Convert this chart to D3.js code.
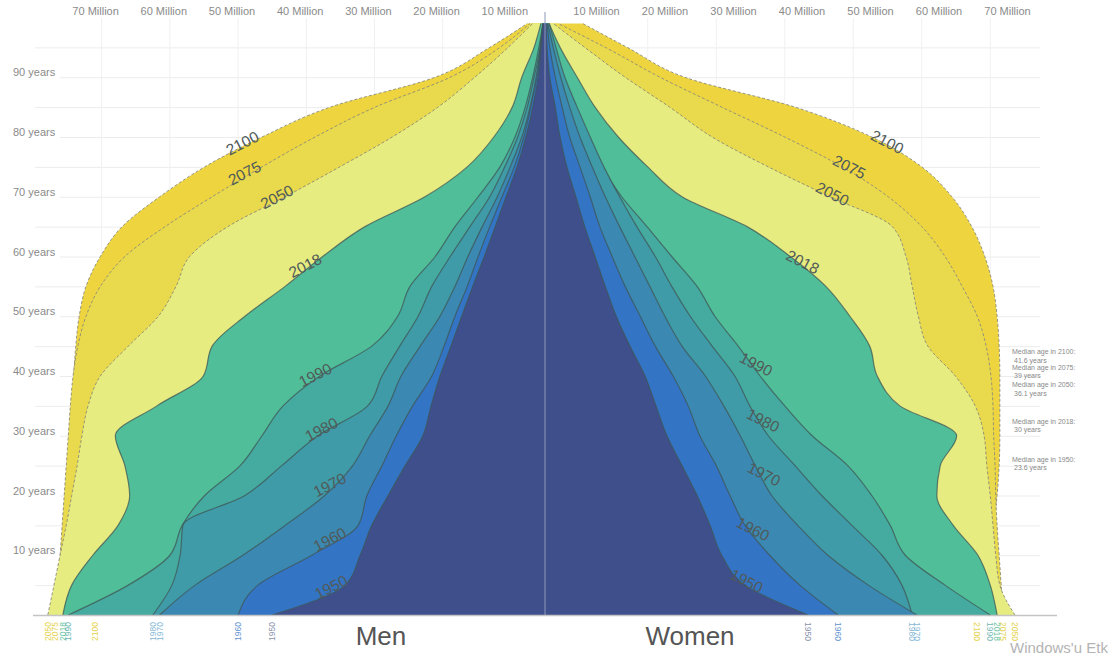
<!DOCTYPE html>
<html>
<head>
<meta charset="utf-8">
<script src="https://cdn.jsdelivr.net/npm/d3@7/dist/d3.min.js"></script>
<style>
    body { margin: 0; background: #fff; }
    svg { display: block; font-family: "Liberation Sans", Arial, sans-serif; }
</style>
</head>
<body>
<svg id="pyramid" width="1120" height="662"></svg>
<script>

// single-year ages sampled every 5 years (last open age 99)
var ages = [0, 5, 10, 15, 20, 25, 30, 35, 40, 45, 50, 55, 60, 65, 70, 75, 80, 85, 90, 95, 99];

// drawing order: back to front
var years = ["2100", "2075", "2050", "2018", "1990", "1980", "1970", "1960", "1950"];

// population per single year of age, millions
var men2100 = [66.0, 67.9, 68.8, 69.1, 69.2, 69.4, 69.4, 69.2, 69.1, 68.8, 68.3, 67.3, 65.2, 62.0, 56.5, 49.9, 41.5, 31.5, 16.1, 8.1, 2.6];
var men2075 = [71.8, 71.4, 71.1, 70.8, 70.5, 70.2, 69.9, 69.6, 69.2, 68.5, 67.3, 65.2, 61.6, 55.7, 48.8, 41.5, 33.7, 24.9, 13.9, 6.6, 2.2];
var men2050 = [72.9, 72.0, 71.1, 70.2, 69.4, 68.6, 67.9, 67.0, 65.2, 61.1, 56.7, 54.1, 52.1, 46.5, 38.1, 30.1, 22.4, 15.7, 10.3, 5.4, 1.8];
var men2018 = [70.7, 69.4, 66.3, 62.6, 60.9, 61.6, 63.0, 56.9, 50.1, 48.8, 44.0, 38.1, 32.6, 26.4, 17.6, 11.4, 7.5, 4.8, 3.4, 1.6, 0.6];
var men1990 = [69.9, 61.1, 55.0, 53.2, 49.9, 44.7, 41.5, 38.4, 33.0, 25.4, 21.6, 19.8, 16.1, 13.2, 9.8, 6.6, 4.4, 2.9, 1.8, 0.9, 0.3];
var men1980 = [57.5, 54.7, 53.5, 53.1, 44.0, 38.6, 33.3, 26.0, 23.9, 21.3, 18.6, 16.6, 13.9, 11.0, 8.1, 5.9, 4.0, 2.6, 1.6, 0.7, 0.3];
var men1970 = [56.5, 51.3, 44.3, 38.1, 32.3, 28.2, 25.7, 23.0, 21.1, 18.3, 15.4, 13.2, 11.3, 9.2, 7.0, 5.1, 3.4, 2.2, 1.3, 0.7, 0.3];
var men1960 = [45.0, 42.1, 34.2, 27.4, 26.1, 23.9, 21.8, 19.4, 16.6, 14.8, 13.2, 11.4, 9.8, 8.1, 6.3, 4.5, 3.1, 2.1, 1.2, 0.6, 0.3];
var men1950 = [40.0, 29.3, 27.1, 25.4, 23.0, 20.5, 17.9, 16.7, 15.4, 13.8, 12.2, 10.6, 8.9, 7.3, 5.7, 4.1, 2.8, 1.8, 1.0, 0.6, 0.3];

var women2100 = [63.1, 64.2, 65.0, 65.5, 66.0, 66.3, 66.4, 66.4, 66.4, 66.3, 66.0, 65.4, 64.2, 62.3, 59.4, 55.0, 47.7, 36.5, 20.4, 12.0, 5.5];
var women2075 = [66.9, 66.6, 66.3, 66.0, 65.8, 65.7, 65.5, 65.4, 65.1, 64.4, 63.1, 60.9, 58.4, 55.0, 50.1, 43.4, 35.0, 25.8, 16.8, 8.8, 1.9];
var women2050 = [68.6, 66.4, 65.8, 65.4, 65.0, 64.5, 64.1, 62.8, 59.9, 55.9, 54.5, 53.6, 52.7, 50.7, 41.6, 32.6, 24.4, 18.2, 11.7, 5.8, 1.2];
var women2018 = [66.0, 65.0, 63.2, 59.6, 57.2, 57.7, 60.1, 51.8, 48.5, 47.4, 44.5, 41.0, 35.8, 29.5, 20.0, 15.0, 10.7, 7.3, 4.7, 2.2, 0.6];
var women1990 = [65.0, 58.4, 52.6, 50.4, 47.7, 44.2, 39.0, 35.0, 31.4, 28.2, 24.8, 22.2, 18.5, 14.9, 11.2, 8.3, 6.1, 3.9, 2.3, 1.2, 0.4];
var women1980 = [53.6, 52.1, 49.2, 44.8, 40.4, 36.5, 32.6, 29.9, 27.7, 24.4, 21.2, 18.5, 16.1, 13.4, 10.9, 8.6, 6.6, 4.7, 2.9, 1.6, 0.6];
var women1970 = [54.3, 47.2, 41.3, 36.9, 33.1, 30.7, 28.5, 26.1, 23.4, 20.0, 17.5, 15.3, 13.1, 10.9, 8.8, 6.9, 5.1, 3.6, 2.3, 1.2, 0.4];
var women1960 = [42.8, 37.2, 32.8, 29.2, 27.0, 25.0, 22.6, 20.9, 18.7, 16.1, 13.9, 11.7, 9.8, 8.0, 6.6, 5.1, 3.6, 2.5, 1.5, 0.7, 0.3];
var women1950 = [38.4, 29.2, 25.8, 24.1, 22.2, 20.0, 17.8, 16.2, 14.6, 12.4, 10.4, 8.8, 7.3, 5.8, 4.5, 3.2, 2.2, 1.5, 0.7, 0.3, 0.15];

// ages where the year names sit on each outline
var labelAgeMen = [78.5, 73.5, 69.5, 58, 39.7, 30.6, 21.3, 12.2, 4.2];
var labelAgeWomen = [78.7, 74.5, 70, 58.6, 41.5, 32.1, 23.1, 13.9, 5.2];

var millionTicks = [10, 20, 30, 40, 50, 60, 70];
var gridMillions = [15, 25, 35, 45, 55, 65];
var ageTicks = [10, 20, 30, 40, 50, 60, 70, 80, 90];

var medianYears = ["2100", "2075", "2050", "2018", "1950"];
var medianAges = [41.6, 39, 36.1, 30, 23.6];

var menData = [men2100, men2075, men2050, men2018, men1990, men1980, men1970, men1960, men1950];
var womenData = [women2100, women2075, women2050, women2018, women1990, women1980, women1970, women1960, women1950];

var fills = {
    "2100": "#eed53f", "2075": "#e8d94d", "2050": "#e6ec7f", "2018": "#50be99",
    "1990": "#45aa9f", "1980": "#3f9ba8", "1970": "#3b88b2", "1960": "#3474c4", "1950": "#3f4f8c"
};
var labelColors = {
    "2100": "#e6d24a", "2075": "#e6d24a", "2050": "#e6d24a", "2018": "#6cc6a4",
    "1990": "#72b8b2", "1980": "#86b9d6", "1970": "#86b9d6", "1960": "#5f93d2", "1950": "#8a93ad"
};
var dashed = { "2100": true, "2075": true, "2050": true };

var svg = d3.select("#pyramid"),
    cx = 545,
    x0 = 35,
    x1 = 1040;

var xL = d3.scaleLinear().domain([0, 70]).range([cx, cx - 70 * 6.82]),
    xR = d3.scaleLinear().domain([0, 70]).range([cx, cx + 70 * 6.85]),
    y = d3.scaleLinear().domain([0, 100]).range([615, 17.5]);

var table = years.map(function(yr, i) {
    return {
        year: yr,
        men: ages.map(function(a, j) { return { age: a, v: menData[i][j] }; }),
        women: ages.map(function(a, j) { return { age: a, v: womenData[i][j] }; }),
        labelMen: labelAgeMen[i],
        labelWomen: labelAgeWomen[i]
    };
});

// grid
var grid = svg.append("g").attr("class", "grid");
grid.selectAll("line.h")
    .data(d3.range(5, 100, 5))
    .enter().append("line")
    .attr("class", "h")
    .attr("x1", function(d) { return d % 10 === 0 ? 60 : x0; })
    .attr("x2", x1)
    .attr("y1", function(d) { return y(d) + 0.5; })
    .attr("y2", function(d) { return y(d) + 0.5; })
    .attr("stroke", "#ececec");

grid.selectAll("line.vl")
    .data(gridMillions)
    .enter().append("line")
    .attr("x1", function(d) { return xL(d); })
    .attr("x2", function(d) { return xL(d); })
    .attr("y1", 18).attr("y2", 615)
    .attr("stroke", "#f1f1f1");

grid.selectAll("line.vr")
    .data(gridMillions)
    .enter().append("line")
    .attr("x1", function(d) { return xR(d); })
    .attr("x2", function(d) { return xR(d); })
    .attr("y1", 18).attr("y2", 615)
    .attr("stroke", "#f1f1f1");

svg.append("g").selectAll("text")
    .data(ageTicks)
    .enter().append("text")
    .attr("x", 13)
    .attr("y", function(d) { return y(d) - 1; })
    .attr("font-size", 11)
    .attr("fill", "#8a8a8a")
    .text(function(d) { return d + " years"; });

var topAxis = svg.append("g").attr("font-size", 11).attr("fill", "#8a8a8a").attr("text-anchor", "middle");
topAxis.selectAll("text.l")
    .data(millionTicks)
    .enter().append("text")
    .attr("x", function(d) { return xL(d) + 28; })
    .attr("y", 15)
    .text(function(d) { return d + " Million"; });
topAxis.selectAll("text.r")
    .data(millionTicks)
    .enter().append("text")
    .attr("x", function(d) { return xR(d) - 17; })
    .attr("y", 15)
    .text(function(d) { return d + " Million"; });

// shapes
function areaFor(sx) {
    return d3.area()
        .y(function(d) { return y(d.age); })
        .x0(cx)
        .x1(function(d) { return sx(d.v); })
        .curve(d3.curveMonotoneY);
}
function lineFor(sx) {
    return d3.line()
        .y(function(d) { return y(d.age); })
        .x(function(d) { return sx(d.v); })
        .curve(d3.curveMonotoneY);
}

var layers = svg.append("g").attr("class", "layers");
[["men", xL], ["women", xR]].forEach(function(side) {
    var key = side[0], sx = side[1];
    var g = layers.append("g").attr("class", key);
    var yr = g.selectAll("g.year")
        .data(table)
        .enter().append("g");
    yr.append("path")
        .attr("d", function(d) { return areaFor(sx)(d[key]); })
        .attr("fill", function(d) { return fills[d.year]; });
    yr.append("path")
        .attr("d", function(d) { return lineFor(sx)(d[key]); })
        .attr("fill", "none")
        .attr("stroke", function(d) { return dashed[d.year] ? "#8c8c7a" : "#3f5556"; })
        .attr("stroke-opacity", function(d) { return dashed[d.year] ? 0.9 : 0.75; })
        .attr("stroke-width", function(d) { return dashed[d.year] ? 1 : 1.2; })
        .attr("stroke-dasharray", function(d) { return dashed[d.year] ? "3,2" : null; });
});

// centre line
svg.append("line")
    .attr("x1", cx).attr("x2", cx)
    .attr("y1", 12).attr("y2", 615)
    .attr("stroke", "#8f98b8")
    .attr("stroke-width", 1);

// baseline
svg.append("line")
    .attr("x1", 33).attr("x2", 1057)
    .attr("y1", 615.5).attr("y2", 615.5)
    .attr("stroke", "#c4c4c4")
    .attr("stroke-width", 1.5);

// year names along outlines
function xAtAge(series, sx, a) {
    var i = d3.bisectRight(ages, a) - 1;
    i = Math.max(0, Math.min(i, ages.length - 2));
    var t = (a - ages[i]) / (ages[i + 1] - ages[i]);
    return sx(series[i].v + t * (series[i + 1].v - series[i].v));
}

var yearLabels = svg.append("g")
    .attr("font-size", 15.5)
    .attr("fill", "#505a5a")
    .attr("text-anchor", "middle");
yearLabels.selectAll("text.m")
    .data(table)
    .enter().append("text")
    .attr("transform", function(d) {
        return "translate(" + xAtAge(d.men, xL, d.labelMen) + "," + (y(d.labelMen) + 2) + ") rotate(-27)";
    })
    .text(function(d) { return d.year; });
yearLabels.selectAll("text.w")
    .data(table)
    .enter().append("text")
    .attr("transform", function(d) {
        return "translate(" + xAtAge(d.women, xR, d.labelWomen) + "," + (y(d.labelWomen) + 2) + ") rotate(27)";
    })
    .text(function(d) { return d.year; });

// year keys below the baseline, at each outline's age-0 width
var keys = svg.append("g").attr("font-size", 8.5);
keys.selectAll("text.m")
    .data(table)
    .enter().append("text")
    .attr("transform", function(d) { return "translate(" + xL(d.men[0].v) + ",622) rotate(-90)"; })
    .attr("text-anchor", "end")
    .attr("dy", "0.35em")
    .attr("fill", function(d) { return labelColors[d.year]; })
    .text(function(d) { return d.year; });
keys.selectAll("text.w")
    .data(table)
    .enter().append("text")
    .attr("transform", function(d) { return "translate(" + xR(d.women[0].v) + ",622) rotate(90)"; })
    .attr("text-anchor", "start")
    .attr("dy", "0.35em")
    .attr("fill", function(d) { return labelColors[d.year]; })
    .text(function(d) { return d.year; });

svg.append("text")
    .attr("x", 381).attr("y", 645)
    .attr("text-anchor", "middle")
    .attr("font-size", 26)
    .attr("fill", "#555")
    .text("Men");
svg.append("text")
    .attr("x", 690).attr("y", 645)
    .attr("text-anchor", "middle")
    .attr("font-size", 26)
    .attr("fill", "#555")
    .text("Women");

// median age notes
var notes = svg.append("g").attr("font-size", 7).attr("fill", "#8a8a8a");
medianYears.forEach(function(yr, i) {
    var t = notes.append("text").attr("x", 1012).attr("y", y(medianAges[i]) - 12);
    t.append("tspan").text("Median age in " + yr + ":");
    t.append("tspan").attr("x", 1014).attr("dy", 8.5).text(medianAges[i] + " years");
});

// screen watermark visible in the capture
svg.append("text")
    .attr("x", 1010).attr("y", 653)
    .attr("font-size", 15)
    .attr("fill", "#b4b4b4")
    .text("Windows'u Etk");

</script>
</body>
</html>
